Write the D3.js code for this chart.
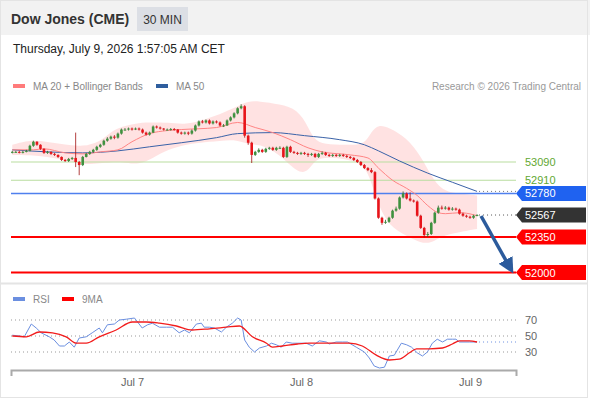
<!DOCTYPE html>
<html>
<head>
<meta charset="utf-8">
<script src="https://cdn.jsdelivr.net/npm/d3@7"></script>
<style>
  body { margin: 0; background: #fff; }
  svg { display: block; font-family: "Liberation Sans", Arial, sans-serif; }
</style>
</head>
<body>
<script>
// Dow Jones (CME) 30 min chart

// candle data (30 min bars from Jul 6 07:00)
var firstOpen = 53185;
var closes = [
  53190,53190,53185,53190,53200,53250,53290,53260,53220,53180,
  53190,53170,53160,53140,53110,53100,53120,53130,53090,53060,
  53140,53170,53190,53210,53240,53260,53300,53320,53340,53330,
  53370,53410,53410,53420,53410,53420,53410,53380,53360,53380,
  53440,53430,53420,53410,53410,53415,53410,53380,53370,53380,
  53370,53400,53450,53490,53480,53500,53470,53490,53480,53450,
  53450,53500,53530,53570,53620,53640,53350,53280,53160,53190,
  53210,53190,53220,53230,53210,53230,53230,53140,53240,53190,
  53180,53170,53180,53170,53160,53170,53140,53170,53180,53160,
  53150,53160,53150,53160,53150,53140,53130,53110,53090,53060,
  53030,53010,52990,52730,52540,52490,52500,52540,52610,52630,
  52740,52780,52730,52710,52700,52560,52440,52370,52380,52490,
  52590,52640,52630,52640,52620,52630,52620,52580,52560,52550,
  52540,52560,52567
];
var highs = [
  53200,53200,53200,53200,53210,53260,53300,53295,53265,53225,
  53200,53195,53180,53165,53145,53120,53130,53140,53380,53100,
  53150,53180,53200,53220,53250,53270,53310,53335,53350,53355,
  53380,53420,53425,53430,53430,53430,53430,53420,53390,53390,
  53450,53450,53440,53425,53420,53425,53425,53415,53390,53390,
  53390,53410,53460,53500,53505,53510,53510,53500,53500,53490,
  53465,53510,53540,53580,53630,53660,53650,53360,53290,53200,
  53225,53220,53230,53240,53240,53240,53245,53240,53250,53250,
  53200,53190,53190,53190,53180,53180,53180,53180,53195,53190,
  53170,53170,53170,53170,53170,53160,53150,53140,53120,53100,
  53070,53040,53030,53000,52740,52550,52520,52550,52620,52650,
  52750,52800,52790,52790,52720,52710,52570,52450,52400,52500,
  52600,52660,52660,52655,52650,52645,52640,52630,52590,52570,
  52560,52570,52575
];
var lows = [
  53175,53180,53175,53175,53185,53195,53240,53250,53210,53170,
  53170,53160,53150,53130,53100,53090,53090,53110,53040,52960,
  53050,53135,53160,53180,53200,53230,53250,53290,53310,53315,
  53320,53360,53400,53400,53400,53405,53400,53370,53350,53350,
  53375,53420,53410,53400,53400,53400,53400,53370,53360,53360,
  53355,53360,53390,53440,53470,53470,53460,53460,53470,53440,
  53435,53445,53490,53520,53560,53610,53330,53260,53080,53150,
  53180,53180,53180,53210,53200,53200,53220,53130,53130,53180,
  53170,53160,53160,53160,53140,53150,53130,53130,53160,53150,
  53140,53140,53140,53140,53140,53130,53120,53100,53080,53050,
  53020,53000,52980,52720,52530,52470,52480,52490,52530,52600,
  52620,52730,52720,52700,52690,52550,52430,52345,52350,52370,
  52480,52580,52620,52620,52610,52610,52610,52570,52550,52540,
  52530,52530,52555
];

// indicator readings (bar index, value)
var ma50At = [0,10,20,30,39,48,58,64,74,83,93,100,104,110,118,125,132];
var ma50 = [53210,53190,53180,53200,53240,53280,53330,53370,53380,53350,53310,53260,53200,53100,52980,52890,52800];

var ma20At = [0,6,9,15,20,25,30,34,39,44,48,58,64,69,74,79,84,88,96,101,104,108,112,115,118,121,123,127,131,132];
var ma20 = [53210,53210,53220,53180,53170,53190,53210,53290,53370,53400,53410,53430,53480,53430,53380,53310,53230,53190,53160,53130,53030,52910,52830,52760,52660,52590,52580,52590,52570,52560];

var bandAt = [0,5,10,15,20,25,28,31,36,40,44,49,53,59,64,67,70,76,81,84,86,90,96,100,102,104,107,112,116,119,122,126,132];
var bandUpper = [53260,53310,53290,53260,53240,53290,53390,53440,53480,53480,53480,53460,53490,53560,53640,53690,53690,53660,53610,53440,53290,53260,53260,53260,53390,53460,53430,53330,53150,52950,52810,52780,52760];
var bandLower = [53160,53160,53140,53110,53060,53080,53085,53090,53060,53130,53210,53260,53280,53300,53310,53260,53270,53170,52980,52990,53120,53140,53110,53060,52890,52660,52460,52360,52290,52290,52360,52390,52430];

var rsiAt = [0,2,3.4,5.4,6.8,8.2,10.5,11.9,13.4,14.8,16.2,17.6,19,21,22.7,24.7,25.6,27,29,30.4,32.4,34.7,36.9,38.4,39.8,41.8,43.8,45.5,47.4,48.9,50.3,52.3,53.7,54.5,56,57.4,59.4,60.8,62.5,64,65,66,67.3,68.8,70.2,72.2,73.6,75,76.4,77.8,79.5,81,83.5,85.2,87.2,89.2,90,92,93.8,95.2,97.7,100,101.4,102.8,104.3,105.7,107.1,108.5,110.5,112,113.4,115,116.5,117.9,119.3,120.7,122.2,123.6,125,126,127,129.8,132];
var rsi = [51,50,49,65,60,54,49,45,37.5,37.5,42.5,36,47.5,49,54,60,54,64,65,70,71,72.5,60,64,66,61,61,61,54,57.5,54,65,66,61,61,60,55,61,66,72.5,70,45,36,30,35,37.5,41,39,36,42.5,41,41,41,37.5,44,42.5,40,42.5,42.5,42.5,36,30,22.5,12.5,10,11,25,26,41,39,36,29,25,30,41,46,42.5,46,46,46,42.5,42.5,42.5];

var rsiMaAt = [0,4,7.7,11.4,15.3,18.2,21,24.7,29.5,34.1,38,41.8,46.6,51.1,56,60.8,64.5,68.2,72.2,73.9,76.7,81,84.4,90,95.7,99.4,103.4,107.1,109.9,112.8,114.8,118.5,122.2,125,127,129.8,132];
var rsiMa = [50,49,55,54,49,41,41,49,57.5,67.5,67.5,66,62.5,57.5,59,61,62.5,49,41,36,37.5,40,41,41,41,37.5,26,20,21,29,34,34,35,40,44,44,42.5];

// key levels
var levelValues = [53090, 52910, 52780, 52350, 52000];
var levelTypes = ["res", "res", "pivot", "sup", "sup"];
var lastPrice = 52567;
var rsiTicks = [70, 50, 30];
var dayTicks = [new Date(2026, 6, 7), new Date(2026, 6, 8), new Date(2026, 6, 9)];

var width = 590, height = 400;
var plotLeft = 11, plotRight = 516;

var svg = d3.select("body").append("svg")
    .attr("width", width)
    .attr("height", height);

// frame + header
svg.append("rect").attr("x", 0).attr("y", 0).attr("width", width).attr("height", 35).attr("fill", "#f2f2f2");
svg.append("rect").attr("x", 0.5).attr("y", 0.5).attr("width", 587).attr("height", 397)
    .attr("fill", "none").attr("stroke", "#e4e4e4");
svg.append("line").attr("x1", 0).attr("x2", 588).attr("y1", 283.5).attr("y2", 283.5)
    .attr("stroke", "#e4e4e4").attr("stroke-width", 2);

svg.append("text").attr("x", 11).attr("y", 24).attr("font-size", "14px").attr("font-weight", "bold")
    .attr("fill", "#333").text("Dow Jones (CME)");
svg.append("rect").attr("x", 137).attr("y", 7).attr("width", 51).attr("height", 24).attr("fill", "#dcdfe5");
svg.append("text").attr("x", 162.5).attr("y", 24).attr("text-anchor", "middle").attr("font-size", "12px")
    .attr("fill", "#333").text("30 MIN");
svg.append("text").attr("x", 13).attr("y", 53).attr("font-size", "12px").attr("fill", "#222")
    .text("Thursday, July 9, 2026 1:57:05 AM CET");

// legends
function legendItem(x, y, color, label) {
    svg.append("rect").attr("x", x).attr("y", y - 2).attr("width", 12).attr("height", 4).attr("fill", color);
    svg.append("text").attr("x", x + 20).attr("y", y + 3.5).attr("font-size", "10px").attr("fill", "#888").text(label);
}
legendItem(13, 86, "#ff7b7b", "MA 20 + Bollinger Bands");
legendItem(156, 86, "#2f5e9e", "MA 50");
svg.append("text").attr("x", 581).attr("y", 89.5).attr("text-anchor", "end").attr("font-size", "10px")
    .attr("fill", "#999").text("Research \u00a9 2026 Trading Central");
legendItem(13, 299, "#6b8fe0", "RSI");
legendItem(62, 299, "#ff0000", "9MA");

// scales
var start = new Date(2026, 6, 6, 7, 0);
function barTime(i) { return new Date(start.getTime() + i * 30 * 60000); }

var x = d3.scaleTime().domain([dayTicks[0], dayTicks[2]]).range([132, 470]);
var y = d3.scaleLinear().domain([52000, 53090]).range([272.5, 162]);
var ry = d3.scaleLinear().domain([30, 70]).range([352, 320]);

function bx(i) { return x(barTime(i)); }

// bollinger band
var band = bandAt.map(function(d, k) { return { i: d, u: bandUpper[k], l: bandLower[k] }; });
svg.append("path").datum(band)
    .attr("fill", "#ffd3d3").attr("fill-opacity", 0.65)
    .attr("d", d3.area().curve(d3.curveBasis)
        .x(function(d) { return bx(d.i); })
        .y0(function(d) { return y(d.l); })
        .y1(function(d) { return y(d.u); }));

// level lines
var levelColor = { res: "#b9dd9f", pivot: "#4f80ee", sup: "#ff0000" };
var levelWidth = { res: 1.2, pivot: 1.6, sup: 2 };
svg.selectAll(".level").data(levelValues).enter().append("line")
    .attr("x1", plotLeft).attr("x2", plotRight)
    .attr("y1", function(d) { return y(d); }).attr("y2", function(d) { return y(d); })
    .attr("stroke", function(d, k) { return levelColor[levelTypes[k]]; })
    .attr("stroke-width", function(d, k) { return levelWidth[levelTypes[k]]; });

// moving averages
var lineIdx = d3.line().curve(d3.curveMonotoneX)
    .x(function(d) { return bx(d[0]); })
    .y(function(d) { return y(d[1]); });
svg.append("path").datum(ma50At.map(function(d, k) { return [d, ma50[k]]; }))
    .attr("fill", "none").attr("stroke", "#3a62a8").attr("stroke-width", 1).attr("d", lineIdx);
svg.append("path").datum(ma20At.map(function(d, k) { return [d, ma20[k]]; }))
    .attr("fill", "none").attr("stroke", "#ff8484").attr("stroke-width", 1).attr("d", lineIdx);

// dotted extensions
var lastI = closes.length - 1;
svg.append("line").attr("x1", bx(lastI) + 2).attr("x2", plotRight)
    .attr("y1", y(ma50[ma50.length - 1])).attr("y2", y(ma50[ma50.length - 1]))
    .attr("stroke", "#777").attr("stroke-dasharray", "1,3");
svg.append("line").attr("x1", bx(lastI) + 2).attr("x2", plotRight)
    .attr("y1", y(lastPrice)).attr("y2", y(lastPrice))
    .attr("stroke", "#555").attr("stroke-dasharray", "1,3");

// candles
var candles = closes.map(function(c, i) {
    return { i: i, o: i === 0 ? firstOpen : closes[i - 1], c: c, h: highs[i], l: lows[i] };
});
var cg = svg.append("g");
cg.selectAll(".wick").data(candles).enter().append("line")
    .attr("x1", function(d) { return bx(d.i); }).attr("x2", function(d) { return bx(d.i); })
    .attr("y1", function(d) { return y(d.h); }).attr("y2", function(d) { return y(d.l); })
    .attr("stroke", function(d) { return d.c >= d.o ? "#2a5f2a" : "#a01010"; })
    .attr("stroke-width", 0.8);
cg.selectAll(".body").data(candles).enter().append("rect")
    .attr("x", function(d) { return bx(d.i) - 1.3; })
    .attr("width", 2.6)
    .attr("y", function(d) { return y(Math.max(d.o, d.c)); })
    .attr("height", function(d) { return Math.max(1, Math.abs(y(d.o) - y(d.c))); })
    .attr("fill", function(d) { return d.c >= d.o ? "#3f923f" : "#e8141a"; });

// forecast arrow
svg.append("defs").append("marker").attr("id", "ah")
    .attr("viewBox", "0 0 10 10").attr("refX", 7).attr("refY", 5)
    .attr("markerWidth", 4.5).attr("markerHeight", 4.5).attr("orient", "auto")
    .append("path").attr("d", "M0,0 L10,5 L0,10 z").attr("fill", "#2c5b9c");
svg.append("line")
    .attr("x1", bx(lastI) + 4).attr("y1", y(lastPrice) + 1)
    .attr("x2", 511).attr("y2", y(levelValues[4]) - 3)
    .attr("stroke", "#2c5b9c").attr("stroke-width", 3.5).attr("marker-end", "url(#ah)");

// price tags
var tagFill = { pivot: "#1f62f0", sup: "#ff0000", last: "#333333" };
function tag(value, fill) {
    var cy = y(value);
    svg.append("path")
        .attr("d", "M" + plotRight + "," + cy + " L" + (plotRight + 6) + "," + (cy - 7.5) +
            " L586," + (cy - 7.5) + " L586," + (cy + 7.5) + " L" + (plotRight + 6) + "," + (cy + 7.5) + " Z")
        .attr("fill", fill);
    svg.append("text").attr("x", 525).attr("y", cy + 4).attr("font-size", "11px")
        .attr("fill", "#fff").text(value);
}
levelValues.forEach(function(v, k) {
    var t = levelTypes[k];
    if (t === "res") {
        svg.append("text").attr("x", 525).attr("y", y(v) + 4).attr("font-size", "11px")
            .attr("fill", "#62a832").text(v);
    } else {
        tag(v, tagFill[t]);
    }
});
tag(lastPrice, tagFill.last);

// RSI panel
svg.selectAll(".rgrid").data(rsiTicks).enter().append("line")
    .attr("x1", plotLeft).attr("x2", plotRight)
    .attr("y1", function(d) { return ry(d); }).attr("y2", function(d) { return ry(d); })
    .attr("stroke", "#999").attr("stroke-dasharray", "1,3");
svg.selectAll(".rlab").data(rsiTicks).enter().append("text")
    .attr("x", 525).attr("y", function(d) { return ry(d) + 4; })
    .attr("font-size", "11px").attr("fill", "#666").text(function(d) { return d; });

var rline = d3.line()
    .x(function(d) { return bx(d[0]); })
    .y(function(d) { return ry(d[1]); });
svg.append("path").datum(rsiAt.map(function(d, k) { return [d, rsi[k]]; }))
    .attr("fill", "none").attr("stroke", "#6b8fe0").attr("stroke-width", 1).attr("d", rline);
svg.append("path").datum(rsiMaAt.map(function(d, k) { return [d, rsiMa[k]]; }))
    .attr("fill", "none").attr("stroke", "#f21c1c").attr("stroke-width", 1.3)
    .attr("d", rline.curve(d3.curveMonotoneX));
svg.append("line").attr("x1", bx(lastI) + 2).attr("x2", plotRight)
    .attr("y1", ry(rsi[rsi.length - 1])).attr("y2", ry(rsi[rsi.length - 1]))
    .attr("stroke", "#6b8fe0").attr("stroke-dasharray", "1,3");

// time axis
var xa = x.copy().domain([x.invert(plotLeft), x.invert(plotRight)]).range([plotLeft, plotRight]);
var axis = svg.append("g").attr("transform", "translate(0,370)")
    .call(d3.axisBottom(xa).tickValues(dayTicks).tickSizeInner(0).tickSizeOuter(6).tickPadding(8)
        .tickFormat(d3.timeFormat("%b %-d")));
axis.select(".domain").attr("stroke", "#aaa").attr("stroke-width", 2);
axis.selectAll("text").attr("font-size", "11px").attr("fill", "#666").attr("font-family", "Liberation Sans, Arial, sans-serif");
</script>
</body>
</html>
